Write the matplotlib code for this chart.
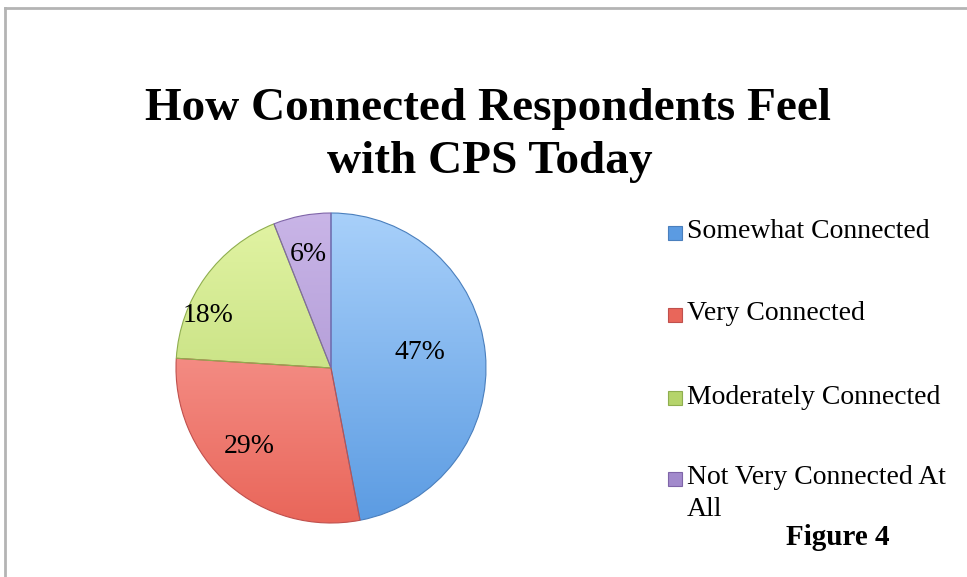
import matplotlib
matplotlib.use("Agg")
import matplotlib.pyplot as plt
import numpy as np
from matplotlib.colors import LinearSegmentedColormap
from matplotlib.patches import Rectangle
from matplotlib.lines import Line2D

labels = ["Somewhat Connected", "Very Connected", "Moderately Connected", "Not Very Connected At\nAll"]
shares = [47, 29, 18, 6]
pct_text = ["47%", "29%", "18%", "6%"]

# light (top) / dark (bottom) shades of each slice
tops = ["#a8d0fa", "#fdaca7", "#e2f4a4", "#c9b5e7"]
bottoms = ["#5b9be2", "#e9665a", "#b5d46b", "#a28acc"]
edges = ["#4a7fbd", "#c0504d", "#8fae4f", "#7f65a8"]

# label placement (radius factor, angle shift in degrees) -- best-fit style
lab_r = [0.58, 0.73, 0.86, 0.75]
lab_dt = [4.8, -4.6, 13.0, 0.6]

W, H = 967, 577
fig = plt.figure(figsize=(W / 100, H / 100), dpi=100)
fig.patch.set_facecolor("white")

# outer chart border (runs off right and bottom)
fig.add_artist(Line2D([5 / W, 5 / W], [1 - 8 / H, 0], color="#b4b4b4", lw=2))
fig.add_artist(Line2D([5 / W, 1], [1 - 8 / H, 1 - 8 / H], color="#b4b4b4", lw=2))

fig.text(488 / W, 1 - 120 / H, "How Connected Respondents Feel", ha="center", va="baseline",
         fontsize=34, fontweight="bold", family="Liberation Serif")
fig.text(490 / W, 1 - 173 / H, "with CPS Today", ha="center", va="baseline",
         fontsize=34, fontweight="bold", family="Liberation Serif")

cx, cy, r = 331, 368, 155
ax = fig.add_axes([(cx - r) / W, (H - cy - r) / H, 2 * r / W, 2 * r / H])
wedges, _ = ax.pie(shares, startangle=90, counterclock=False, radius=1,
                   wedgeprops=dict(linewidth=0.8))
ax.set_xlim(-1, 1)
ax.set_ylim(-1, 1)
ax.axis("off")

grad = np.linspace(1, 0, 256).reshape(-1, 1)
for w, t, b, e in zip(wedges, tops, bottoms, edges):
    cmap = LinearSegmentedColormap.from_list("g", [b, t])
    im = ax.imshow(grad, cmap=cmap, extent=[-1, 1, -1, 1], origin="upper",
                   aspect="auto", zorder=1, vmin=0, vmax=1)
    im.set_clip_path(w)
    w.set_facecolor("none")
    w.set_edgecolor(e)
    w.set_zorder(2)
    w.set_clip_on(False)
ax.set_xlim(-1, 1)
ax.set_ylim(-1, 1)

for w, txt, rf, dt in zip(wedges, pct_text, lab_r, lab_dt):
    ang = np.deg2rad((w.theta1 + w.theta2) / 2 + dt)
    ax.text(rf * np.cos(ang), rf * np.sin(ang), txt, ha="center", va="center",
            fontsize=20, family="Liberation Serif", zorder=3)

# legend
leg_y = [232, 314, 397, 478]
for lab, y, b, e in zip(labels, leg_y, bottoms, edges):
    fig.add_artist(Rectangle((668 / W, 1 - (y + 8) / H), 14 / W, 14 / H,
                             facecolor=b, edgecolor=e, lw=0.8))
    lines = lab.split("\n")
    for k, line in enumerate(lines):
        fig.text(687 / W, 1 - (y + 32 * k) / H, line, ha="left", va="center",
                 fontsize=20, family="Liberation Serif")

fig.text(838 / W, 1 - 545 / H, "Figure 4", ha="center", va="baseline",
         fontsize=21, fontweight="bold", family="Liberation Serif")

fig.savefig("out.png", dpi=100)
